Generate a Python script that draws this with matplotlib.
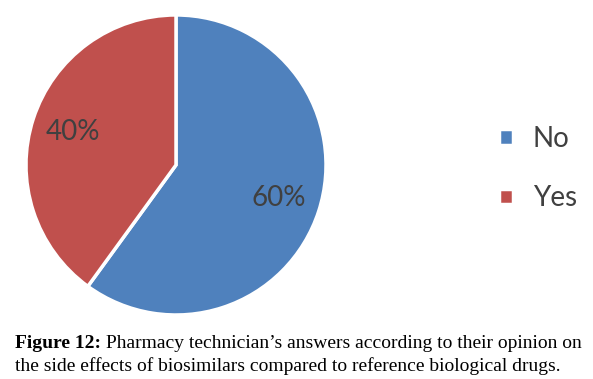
import matplotlib.pyplot as plt

# data
labels = ['No', 'Yes']
values = [60, 40]
colors = ['#4F81BD', '#C0504D']

caption_bold = 'Figure 12:'
caption_rest = ' Pharmacy technician\u2019s answers according to their opinion on'
caption_line2 = 'the side effects of biosimilars compared to reference biological drugs.'

fig = plt.figure(figsize=(5.93, 3.79), dpi=100)
ax = fig.add_axes([0.0438, 0.1689, 0.506, 0.7916])

wedges, texts, autotexts = ax.pie(values, colors=colors, startangle=90, counterclock=False,
                                  autopct='%d%%', pctdistance=0.72,
                                  wedgeprops=dict(edgecolor='white', linewidth=2.5),
                                  textprops=dict(color='#404040', fontsize=20, family='Lato'))
ax.set_aspect('equal')
ax.set_xlim(-1, 1)
ax.set_ylim(-1, 1)

fig.legend(wedges, labels, loc='center left', bbox_to_anchor=(0.8, 0.555), frameon=False,
           prop=dict(family='Lato', size=20), labelcolor='#404040',
           handlelength=0.5, handleheight=0.5, handletextpad=0.7, labelspacing=1.2)

# caption
t = fig.text(15 / 593, 1 - 343 / 379, caption_bold, fontsize=14, fontweight='bold',
             family='Liberation Serif', va='center', ha='left')
ax.annotate(caption_rest, xy=(1, 0.5), xycoords=t, va='center', ha='left',
            fontsize=14, family='Liberation Serif', annotation_clip=False)
fig.text(15 / 593, 1 - 366 / 379, caption_line2, fontsize=14,
         family='Liberation Serif', va='center', ha='left')

fig.savefig('out.png', dpi=100)
